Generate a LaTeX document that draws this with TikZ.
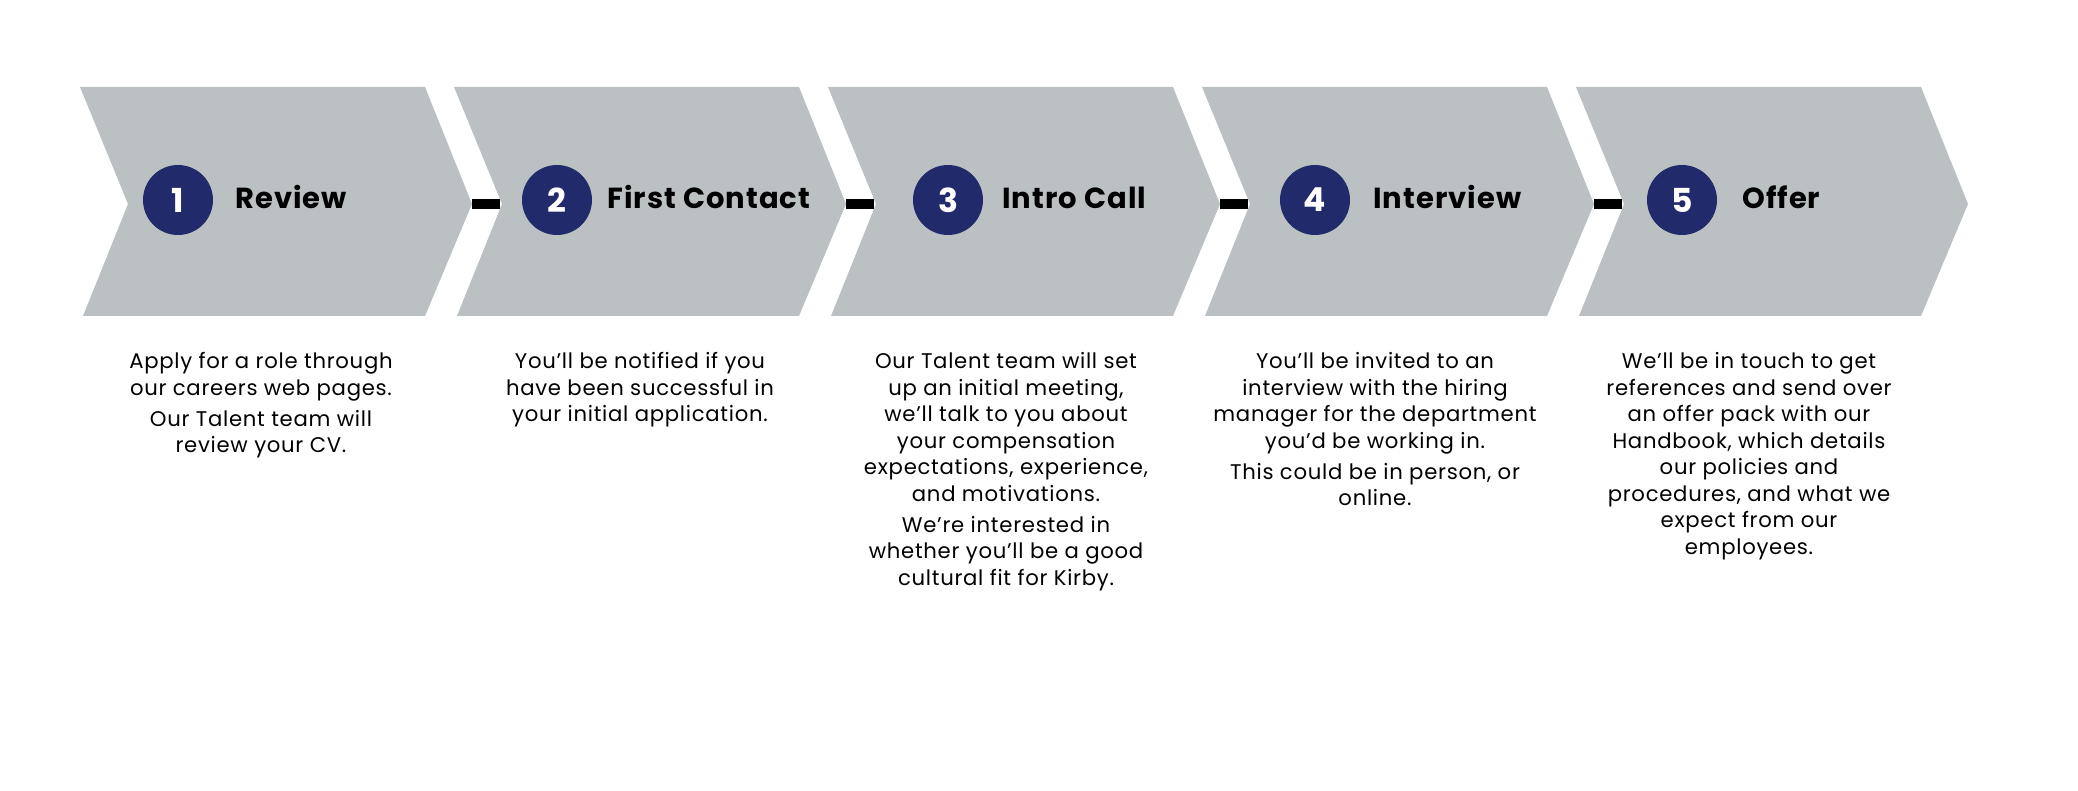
\documentclass[tikz,border=0pt]{standalone}
\usepackage{fontspec}
\setmainfont{Poppins}
\newfontfamily\bodyfont{Poppins}[LetterSpace=3.4]
\newfontfamily\titlefont{Poppins}[LetterSpace=3.4]
\definecolor{chev}{HTML}{BBC0C3}
\definecolor{navy}{HTML}{212A6B}
\tikzset{
  chevron/.style={fill=chev},
  stepnum/.style={circle, fill=navy, inner sep=0pt, minimum size=35pt, text=white, font=\fontsize{16.5}{16.5}\selectfont\bfseries},
  steptitle/.style={anchor=base west, inner sep=0pt, text=black, font=\titlefont\fontsize{14.5}{14.5}\selectfont\bfseries},
  desc/.style={anchor=north, inner sep=0pt, align=center, text=black, font=\bodyfont\fontsize{10.6}{13.25}\selectfont},
  bar/.style={line width=5pt, black}
}
\begin{document}
\begin{tikzpicture}[x=0.5pt,y=-0.5pt]
\useasboundingbox (0,0) rectangle (2078,791);
\fill[white] (0,0) rectangle (2078,791);
\foreach \i in {1,...,5} {
  \pgfmathsetmacro\dx{374*(\i-1)}
  \coordinate (tl\i) at (80+\dx,87);
  \coordinate (tr\i) at (425+\dx,87);
  \coordinate (tip\i) at (472+\dx,204);
  \coordinate (br\i) at (425+\dx,316);
  \coordinate (bl\i) at (83+\dx,316);
  \coordinate (notch\i) at (128+\dx,204);
  \fill[chevron] (tl\i) -- (tr\i) -- (tip\i) -- (br\i) -- (bl\i) -- (notch\i) -- cycle;
}
\foreach \a/\b in {1/2,2/3,3/4,4/5} {
  \draw[bar] (tip\a) -- ([xshift=-1pt]notch\b);
}
\node[stepnum] (c1) at (178,200) {1};
\node[stepnum] (c2) at (557,200) {2};
\node[stepnum] (c3) at (948,200) {3};
\node[stepnum] (c4) at (1315,200) {4};
\node[stepnum] (c5) at (1682,200) {5};
\node[steptitle] (t1) at (235,209) {Review};
\node[steptitle] (t2) at (607,209) {First Contact};
\node[steptitle] (t3) at (1002,209) {Intro Call};
\node[steptitle] (t4) at (1373,209) {Interview};
\node[steptitle] (t5) at (1742,209) {Offer};
\node[desc] (d1) at (261,352) {Apply for a role through\\our careers web pages.\\[2.25pt]Our Talent team will\\review your CV.};
\node[desc] (d2) at (640,352) {You’ll be notified if you\\have been successful in\\your initial application.};
\node[desc] (d3) at (1006,352) {Our Talent team will set\\up an initial meeting,\\we’ll talk to you about\\your compensation\\expectations, experience,\\and motivations.\\[2.25pt]We’re interested in\\whether you’ll be a good\\cultural fit for Kirby.};
\node[desc] (d4) at (1375,352) {You’ll be invited to an\\interview with the hiring\\manager for the department\\you’d be working in.\\[2.25pt]This could be in person, or\\online.};
\node[desc] (d5) at (1749,352) {We’ll be in touch to get\\references and send over\\an offer pack with our\\Handbook, which details\\our policies and\\procedures, and what we\\expect from our\\employees.};
\end{tikzpicture}
\end{document}
